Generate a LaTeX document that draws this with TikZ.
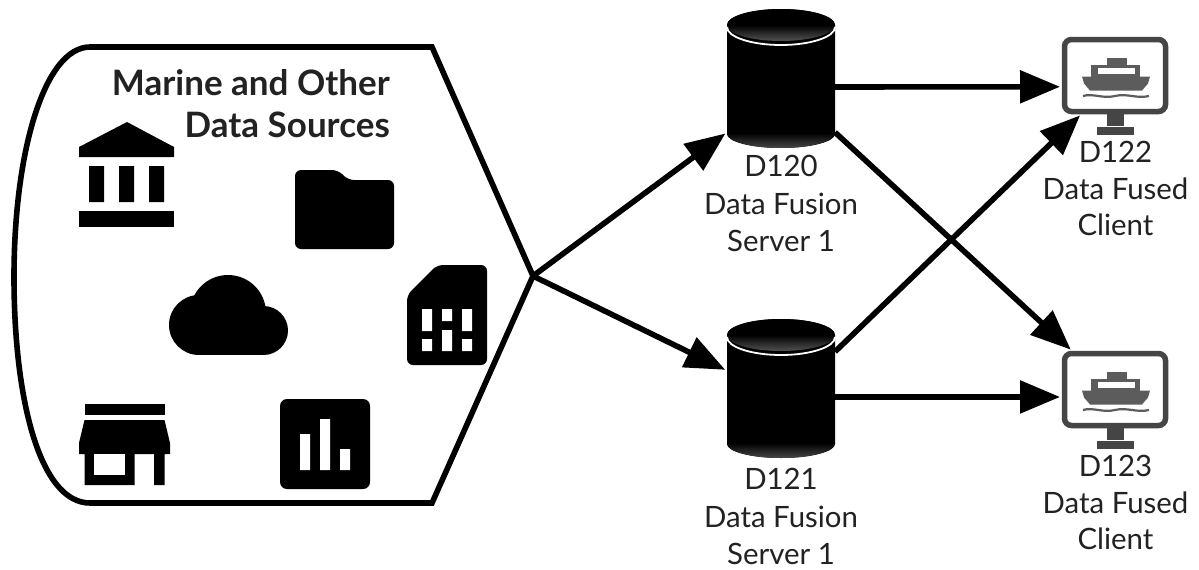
\documentclass[tikz,border=0pt]{standalone}
\usepackage{fontspec}
\setmainfont{Lato}
\usetikzlibrary{arrows.meta,positioning}
\definecolor{ink}{HTML}{222222}
\definecolor{mon}{HTML}{454545}
\definecolor{shipc}{HTML}{5C5C5C}
\tikzset{
  conn/.style={line width=5.6pt,-{Triangle[length=40pt,width=32pt]},black,shorten >=2pt},
  anchorbox/.style={inner sep=0pt,outer sep=0pt,minimum width=#1},
  lbl/.style={font=\fontsize{29.4pt}{37.5pt}\selectfont,text=ink,align=center,inner sep=0pt},
  lblb/.style={font=\fontsize{29.4pt}{36.7pt}\selectfont,text=ink,align=center,inner sep=0pt},
  ttl/.style={font=\fontsize{35pt}{42pt}\selectfont\bfseries,text=ink,align=right,inner sep=0pt},
  icon/.style={fill=black,draw=none},
  hole/.style={fill=white,draw=none}
}
\newcommand{\drumshape}[2]{%
  \begin{scope}[shift={(#1,#2)}]
    \fill[black] (-54,-62) -- (-54,47) arc[start angle=180,end angle=0,x radius=54,y radius=14] -- (54,-62) arc[start angle=0,end angle=-180,x radius=54,y radius=16] -- cycle;
    \shade[top color=black,bottom color=black!72,middle color=black] (-54,46) arc[start angle=180,end angle=0,x radius=54,y radius=15] arc[start angle=0,end angle=-180,x radius=54,y radius=15] -- cycle;
    \fill[black] (-54,34) rectangle (54,46);
    \shade[top color=black,bottom color=black!68,middle color=black] (0,-62) ellipse[x radius=54,y radius=16];
    \draw[white,line width=1.8pt] (-54,-60) arc[start angle=180,end angle=0,x radius=54,y radius=18];
  \end{scope}}
\newcommand{\screen}[2]{%
  \begin{scope}[shift={(#1,#2)}]
    \draw[mon,line width=5.5pt,rounded corners=7pt] (-50.5,-36) rectangle (50.5,36);
    \fill[mon] (-8.5,38) rectangle (8.5,50);
    \fill[mon] (-18,51) rectangle (19,59);
    \fill[shipc] (-8,-18) rectangle (12,-10);
    \fill[shipc] (-24,-11) -- (25,-11) -- (25,2) -- (-24,2) -- cycle;
    \fill[shipc] (-33,1) -- (35,1) -- (33,8) -- (27,15) -- (-25,15) -- (-31,8) -- cycle;
    \fill[white] (-17,-8) rectangle (20,-2);
    \draw[shipc,line width=2.2pt] (-32,20.5) .. controls (-22,17.5) and (-12,23.5) .. (0,20.5) .. controls (12,17.5) and (22,23.5) .. (34,20.5);
  \end{scope}}
\begin{document}
\begin{tikzpicture}[x=1pt,y=-1pt]
\useasboundingbox (0,0) rectangle (1199,570);
\fill[white] (0,0) rectangle (1199,570);
% source outline
\coordinate (hub) at (533,276);
\draw[black,line width=5.6pt,line join=miter] (hub) -- (432,47) -- (90,47) .. controls (45,47) and (14,150) .. (14,277) .. controls (14,400) and (40,503) .. (90,503) -- (432,503) -- cycle;
\node[ttl,anchor=north east] (title) at (390,69) {Marine and Other\\Data Sources};
% bank
\fill[icon] (127,122) -- (174,147) -- (174,157) -- (79,157) -- (79,147) -- cycle;
\fill[icon] (89,166) rectangle (104,202) (119,166) rectangle (134,202) (149,166) rectangle (164,202);
\fill[icon] (79,211) rectangle (174,227);
% folder
\fill[icon,rounded corners=6pt] (295,249) -- (295,170) -- (338,170) -- (348,180) -- (394,180) -- (394,249) -- cycle;
% cloud
\fill[icon] (199,325) circle[radius=30];
\fill[icon] (228,313) circle[radius=38];
\fill[icon] (263.5,330.5) circle[radius=24.5];
\fill[icon] (199,313) rectangle (263.5,355);
% sim
\fill[icon,rounded corners=6pt] (407,365) -- (407,295) -- (437,265) -- (487,265) -- (487,365) -- cycle;
\fill[hole] (422,309) rectangle (432,331) (442,309) rectangle (452,321) (462,309) rectangle (472,331)
            (422,339) rectangle (432,351) (442,330) rectangle (452,351) (462,339) rectangle (472,351);
% store
\fill[icon] (84.5,404) rectangle (164.5,415);
\fill[icon] (84.5,420) -- (164.5,420) -- (170,443) -- (170,454) -- (164.5,454) -- (164.5,485) -- (154,485) -- (154,454) -- (134.5,454) -- (134.5,485) -- (84.5,485) -- (84.5,454) -- (79,454) -- (79,443) -- cycle;
\fill[hole] (94,454) rectangle (125,475);
% chart
\fill[icon,rounded corners=7pt] (280,399) rectangle (370,489);
\fill[hole] (300,434) rectangle (310,470) (320,419) rectangle (330,470) (340,449) rectangle (350,470);
% drums and monitors
\node[anchorbox=108pt,minimum height=124pt] (s1) at (781,87) {};
\node[anchorbox=108pt,minimum height=124pt] (s2) at (781,397) {};
\node[anchorbox=106pt,minimum height=77pt] (m1) at (1115,75.5) {};
\node[anchorbox=106pt,minimum height=77pt] (m2) at (1115,389.5) {};
\drumshape{781}{87}
\drumshape{781}{397}
\screen{1115}{75.5}
\screen{1115}{389.5}
% labels
\node[lbl,anchor=north] (l1) at (781,155) {D120\\Data Fusion\\Server 1};
\node[lbl,anchor=north] (l2) at (781,468) {D121\\Data Fusion\\Server 1};
\node[lblb,anchor=north] (l3) at (1115.5,141) {D122\\Data Fused\\Client};
\node[lblb,anchor=north] (l4) at (1115.5,455) {D123\\Data Fused\\Client};
% connectors
\draw[conn] (hub) -- (s1.220);
\draw[conn] (hub) -- (s2.154);
\draw[conn] (s1.east) -- (m1.192);
\draw[conn] (s2.east) -- (m2.188);
\draw[conn] (s1.-40) -- (m2.138);
\draw[conn] (s2.40) -- (m1.229);
\end{tikzpicture}
\end{document}
